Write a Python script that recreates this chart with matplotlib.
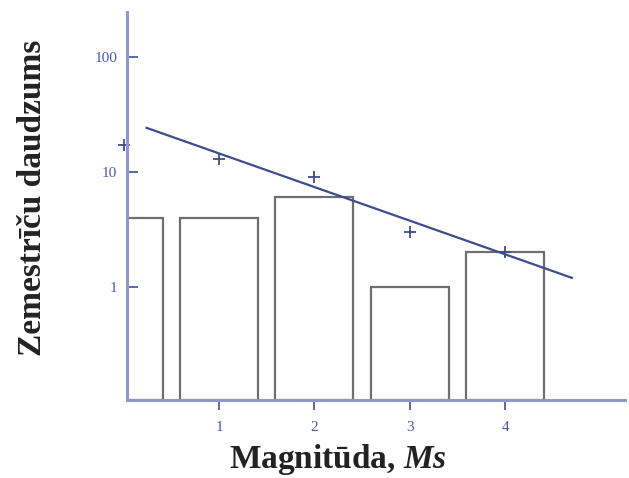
import matplotlib.pyplot as plt

plt.rcParams['mathtext.fontset'] = 'custom'
plt.rcParams['mathtext.it'] = 'Liberation Serif:italic:bold'
plt.rcParams['mathtext.rm'] = 'Liberation Serif:bold'

# data
magnitudes = [0, 1, 2, 3, 4]
counts = [4, 4, 6, 1, 2]
cumulative = [17, 13, 9, 3, 2]
fit_x = [0.24, 4.70]
fit_y = [24.1, 1.2]

axis_col = '#8f99c9'
tick_col = '#4b5aa6'
line_col = '#3e4c8e'
bar_col = '#6e6e6e'

ymin, ymax = 0.104, 245

fig = plt.figure(figsize=(6.29, 4.78), dpi=100)
ax = fig.add_axes([0.202, 0.163, 0.792, 0.812])

ax.bar(magnitudes, [c - ymin for c in counts], width=0.82, bottom=ymin,
       fill=False, edgecolor=bar_col, linewidth=1.6)
ax.plot(fit_x, fit_y, color=line_col, linewidth=1.6)
ax.plot(magnitudes, cumulative, linestyle='none', marker='+', markersize=9,
        markeredgewidth=1.3, color=line_col, clip_on=False)

ax.set_yscale('log')
ax.set_xlim(0.035, 5.26)
ax.set_ylim(ymin, ymax)

ax.set_xticks([1, 2, 3, 4])
ax.set_xticklabels(['1', '2', '3', '4'])
ax.set_yticks([1, 10, 100])
ax.set_yticklabels(['1', '10', '100'])
ax.minorticks_off()
ax.tick_params(axis='x', direction='out', length=7, width=1.3, color=tick_col,
               labelcolor=tick_col, labelsize=11, pad=8)
ax.tick_params(axis='y', direction='in', length=8, width=1.3, color=tick_col,
               labelcolor=tick_col, labelsize=11, pad=7)
for lab in ax.get_xticklabels() + ax.get_yticklabels():
    lab.set_family('Liberation Serif')

for s in ['top', 'right']:
    ax.spines[s].set_visible(False)
for s in ['left', 'bottom']:
    ax.spines[s].set_color(axis_col)
    ax.spines[s].set_linewidth(2.2)

# axis titles placed where they sit in the reference
fig.text(338 / 629, 1 - 468 / 478, 'Magnitūda, $Ms$', family='Liberation Serif',
         fontsize=24, fontweight='bold', color='#222222',
         ha='center', va='baseline')
fig.text(33 / 629, 1 - 198 / 478, 'Zemestrīču daudzums', family='Liberation Serif',
         fontsize=24, fontweight='bold', color='#222222',
         ha='center', va='center', rotation=90)

plt.savefig('out.png', dpi=100)
